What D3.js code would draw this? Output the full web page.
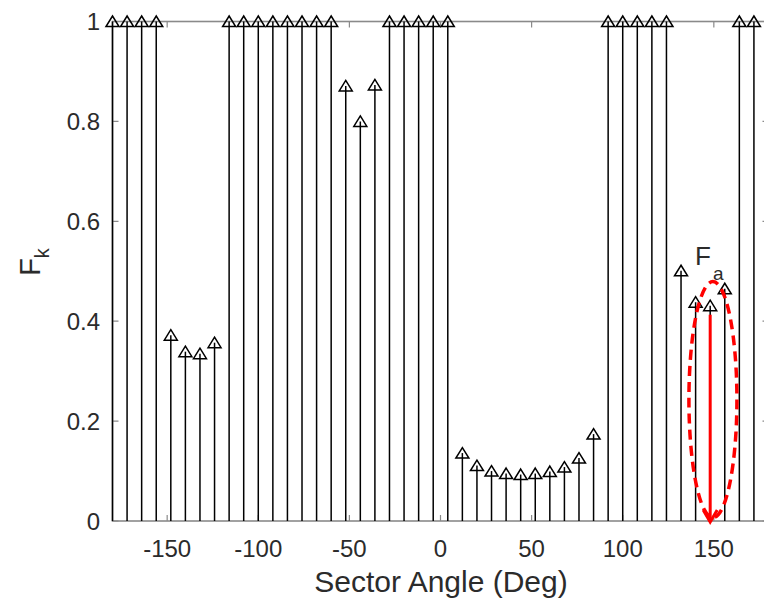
<!DOCTYPE html>
<html>
<head>
<meta charset="utf-8">
<script src="https://cdn.jsdelivr.net/npm/d3@7"></script>
<style>
  body { margin: 0; background: #fff; }
  svg text { font-family: "Liberation Sans", Arial, Helvetica, sans-serif; fill: #2b2b2b; }
</style>
</head>
<body>
<div id="chart"></div>
<script>
// Sector angles (deg) and F_k value of each sector
const angles = [-180, -172, -164, -156, -148, -140, -132, -124, -116, -108, -100, -92,
  -84, -76, -68, -60, -52, -44, -36, -28, -20, -12, -4, 4, 12, 20, 28, 36, 44, 52,
  60, 68, 76, 84, 92, 100, 108, 116, 124, 132, 140, 148, 156, 164, 172];
const values = [1, 1, 1, 1, 0.372, 0.339, 0.335, 0.357, 1, 1, 1, 1,
  1, 1, 1, 1, 0.871, 0.800, 0.873, 1, 1, 1, 1, 1, 0.136, 0.111, 0.100, 0.095, 0.093, 0.095,
  0.099, 0.108, 0.126, 0.174, 1, 1, 1, 1, 1, 0.501, 0.438, 0.431, 0.465, 1, 1];
const xTicks = [-150, -100, -50, 0, 50, 100, 150];
const yTicks = [0, 0.2, 0.4, 0.6, 0.8, 1];

const W = 764, H = 613;
const svg = d3.select('#chart').append('svg')
  .attr('width', W)
  .attr('height', H);

const x = d3.scaleLinear().domain([-180, 180]).range([112.5, 768.5]);
const y = d3.scaleLinear().domain([0, 1]).range([521, 21.5]);

const axisColor = '#8a8a8a';

// box
svg.append('rect')
  .attr('x', x(-180)).attr('y', y(1))
  .attr('width', x(180) - x(-180)).attr('height', y(0) - y(1))
  .attr('fill', 'none').attr('stroke', axisColor).attr('stroke-width', 1.6);

// ticks (inward, on all four sides)
const tl = 6;
svg.append('g').selectAll('path').data(xTicks).join('path')
  .attr('d', d => `M${x(d)},${y(0)}v${-tl}M${x(d)},${y(1)}v${tl}`)
  .attr('stroke', axisColor).attr('stroke-width', 1.2);
svg.append('g').selectAll('path').data(yTicks).join('path')
  .attr('d', d => `M${x(-180)},${y(d)}h${tl}M${x(180)},${y(d)}h${-tl}`)
  .attr('stroke', axisColor).attr('stroke-width', 1.2);

// tick labels
svg.append('g').selectAll('text').data(xTicks).join('text')
  .attr('x', d => x(d)).attr('y', 557)
  .attr('text-anchor', 'middle')
  .attr('font-size', 24)
  .text(d => d);
svg.append('g').selectAll('text').data(yTicks).join('text')
  .attr('x', 100).attr('y', d => y(d) + 8.5)
  .attr('text-anchor', 'end')
  .attr('font-size', 24)
  .text(d => d);

// axis labels
svg.append('text')
  .attr('x', 441).attr('y', 592)
  .attr('text-anchor', 'middle')
  .attr('font-size', 30)
  .text('Sector Angle (Deg)');

const yl = svg.append('text')
  .attr('transform', 'translate(40,262) rotate(-90)')
  .attr('text-anchor', 'middle')
  .attr('font-size', 29);
yl.append('tspan').text('F');
yl.append('tspan').attr('font-size', 20).attr('dy', 9).text('k');

// stems
const pts = angles.map((a, i) => ({ a, v: values[i] }));
svg.append('g').selectAll('line').data(pts).join('line')
  .attr('x1', d => x(d.a)).attr('x2', d => x(d.a))
  .attr('y1', y(0)).attr('y2', d => y(d.v))
  .attr('stroke', '#000').attr('stroke-width', 1.5);

// triangle markers
svg.append('g').selectAll('path').data(pts).join('path')
  .attr('transform', d => `translate(${x(d.a)},${y(d.v)})`)
  .attr('d', 'M0,-5.5L6.5,5L-6.5,5Z')
  .attr('fill', 'none')
  .attr('stroke', '#000')
  .attr('stroke-width', 1.5)
  .attr('stroke-linejoin', 'miter');

// annotation: red arrow on the 148 deg stem
const ax = x(148);
svg.append('line')
  .attr('x1', ax).attr('x2', ax)
  .attr('y1', y(0.413)).attr('y2', y(0) + 1)
  .attr('stroke', '#f00').attr('stroke-width', 3);
svg.append('path')
  .attr('d', `M${ax - 7},${y(0) - 11}L${ax},${y(0) + 1}L${ax + 7},${y(0) - 11}`)
  .attr('fill', 'none').attr('stroke', '#f00').attr('stroke-width', 3);

// dashed ellipse
svg.append('ellipse')
  .attr('cx', x(149.5)).attr('cy', y(0.243))
  .attr('rx', 24).attr('ry', 118)
  .attr('fill', 'none')
  .attr('stroke', '#f00')
  .attr('stroke-width', 3.5)
  .attr('stroke-dasharray', '10,6');

// F_a label
const fa = svg.append('text')
  .attr('x', 695).attr('y', 265)
  .attr('font-size', 26);
fa.append('tspan').text('F');
fa.append('tspan').attr('font-size', 19).attr('dx', 2).attr('dy', 15).text('a');
</script>
</body>
</html>
